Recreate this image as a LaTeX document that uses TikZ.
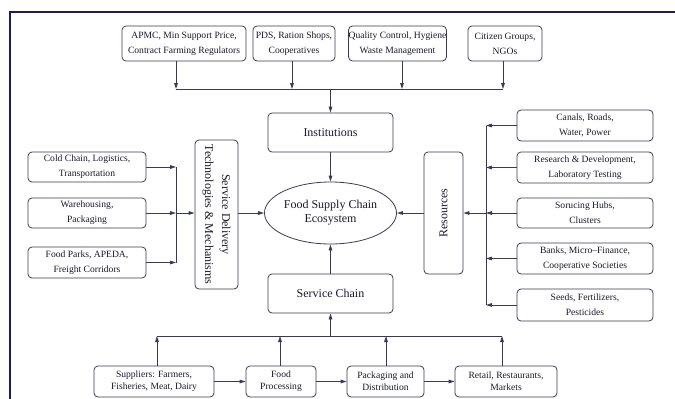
\documentclass[tikz,border=0pt]{standalone}
\usepackage{fontspec}
\setmainfont{Liberation Serif}
\usetikzlibrary{arrows.meta,shapes.geometric,calc}
\definecolor{lnc}{RGB}{58,58,88}
\definecolor{txc}{RGB}{25,25,45}
\definecolor{navyc}{RGB}{25,25,110}
\begin{document}
\begin{tikzpicture}[x=1pt,y=-1pt,
 box/.style={draw=lnc, line width=0.8pt, rounded corners=4pt, align=center, inner sep=0pt, text=txc, font=\fontsize{9.6}{15}\selectfont},
 lowbox/.style={box, font=\fontsize{9.6}{12}\selectfont},
 bigbox/.style={box, font=\fontsize{12}{17}\selectfont},
 arr/.style={draw=lnc, line width=0.8pt, -{Triangle[length=6pt,width=3.6pt]}},
 bus/.style={draw=lnc, line width=0.8pt},
 frame/.style={draw=navyc, line width=1.2pt}]
\useasboundingbox (0,0) rectangle (675,399);
\draw[frame] (10,399) -- (10,12) -- (675,12);

% top boxes
\node[box, minimum width=124pt, minimum height=35pt] (t1) at (184,43.5) {APMC, Min Support Price,\\Contract Farming Regulators};
\node[box, minimum width=82pt, minimum height=35pt] (t2) at (294,43.5) {PDS, Ration Shops,\\Cooperatives};
\node[box, minimum width=93pt, minimum height=35pt] (t3) at (397.5,43.5) {Quality Control, Hygiene\\Waste Management};
\node[box, minimum width=74pt, minimum height=35pt] (t4) at (505,43.5) {Citizen Groups,\\NGOs};

% center column
\node[bigbox, minimum width=125pt, minimum height=39pt] (inst) at (330.5,132.5) {Institutions};
\node[ellipse, draw=lnc, line width=0.8pt, minimum width=117pt, minimum height=62pt, inner sep=0pt, align=center, text=txc, font=\fontsize{12}{14}\selectfont] (eco) at (330.5,213) {Food Supply Chain\\Ecosystem};
\node[bigbox, minimum width=125pt, minimum height=39pt] (sc) at (330.5,293.5) {Service Chain};

% side columns
\node[bigbox, rotate=-90, minimum width=149pt, minimum height=43pt] (sd) at (216.5,214.5) {Service Delivery\\Technologies \& Mechanisms};
\node[bigbox, rotate=90, minimum width=122pt, minimum height=39pt] (res) at (443.5,213) {Resources};

% left boxes
\node[box, minimum width=118pt, minimum height=30pt] (l1) at (87,167) {Cold Chain, Logistics,\\Transportation};
\node[box, minimum width=118pt, minimum height=30pt] (l2) at (87,213) {Warehousing,\\Packaging};
\node[box, minimum width=118pt, minimum height=31pt] (l3) at (87,262.5) {Food Parks, APEDA,\\Freight Corridors};

% right boxes
\node[box, minimum width=136pt, minimum height=31pt] (r1) at (585,125.5) {Canals, Roads,\\Water, Power};
\node[box, minimum width=136pt, minimum height=31pt] (r2) at (585,167.5) {Research \& Development,\\Laboratory Testing};
\node[box, minimum width=136pt, minimum height=30pt] (r3) at (585,213) {Sorucing Hubs,\\Clusters};
\node[box, minimum width=136pt, minimum height=31pt] (r4) at (585,258.5) {Banks, Micro--Finance,\\Cooperative Societies};
\node[box, minimum width=136pt, minimum height=32pt] (r5) at (585,305) {Seeds, Fertilizers,\\Pesticides};

% bottom boxes
\node[lowbox, minimum width=120pt, minimum height=31pt] (s1) at (154,381.5) {Suppliers: Farmers,\\Fisheries, Meat, Dairy};
\node[lowbox, minimum width=70pt, minimum height=31pt] (s2) at (281,381.5) {Food\\Processing};
\node[lowbox, minimum width=77pt, minimum height=31pt] (s3) at (385.5,381.5) {Packaging and\\Distribution};
\node[lowbox, minimum width=102pt, minimum height=31pt] (s4) at (506,381.5) {Retail, Restaurants,\\Markets};

% top bus
\coordinate (tb1) at (176,89);
\coordinate (tb2) at (292,89);
\coordinate (tb3) at (402,89);
\coordinate (tb4) at (503,89);
\coordinate (tbm) at (330.5,89);
\draw[arr] (t1.south -| tb1) -- (tb1);
\draw[arr] (t2.south -| tb2) -- (tb2);
\draw[arr] (t3.south -| tb3) -- (tb3);
\draw[arr] (t4.south -| tb4) -- (tb4);
\draw[bus] (tb1) -- (tb4);
\draw[arr] (tbm) -- (inst.north);
\draw[arr] (inst) -- (eco);
\draw[arr] (sc) -- (eco);

% bottom bus
\coordinate (bb1) at (157,336);
\coordinate (bb2) at (280,336);
\coordinate (bb3) at (386,336);
\coordinate (bb4) at (502,336);
\coordinate (bbm) at (330.5,336);
\draw[arr] (s1.north -| bb1) -- (bb1);
\draw[arr] (s2.north -| bb2) -- (bb2);
\draw[arr] (s3.north -| bb3) -- (bb3);
\draw[arr] (s4.north -| bb4) -- (bb4);
\draw[bus] (bb1) -- (bb4);
\draw[arr] (bbm) -- (sc.south);
\draw[arr] (s1) -- (s2);
\draw[arr] (s2) -- (s3);
\draw[arr] (s3) -- (s4);

% left collector
\coordinate (lv1) at (176,167);
\coordinate (lv2) at (176,213);
\coordinate (lv3) at (176,262.5);
\draw[arr] (l1.east) -- (lv1);
\draw[arr] (l2.east) -- (lv2);
\draw[arr] (l3.east) -- (lv3);
\draw[bus] (lv1) -- (lv3);
\draw[arr] (lv2) -- (lv2 -| sd.south);
\draw[arr] (eco.west -| sd.north) -- (eco.west);

% right collector
\coordinate (rv1) at (486,125.5);
\coordinate (rv2) at (486,167.5);
\coordinate (rv3) at (486,213);
\coordinate (rv4) at (486,258.5);
\coordinate (rv5) at (486,305);
\draw[bus] (rv1) -- (rv5);
\draw[arr] (r1.west) -- (rv1);
\draw[arr] (r2.west) -- (rv2);
\draw[arr] (r3.west) -- (rv3);
\draw[arr] (r4.west) -- (rv4);
\draw[arr] (r5.west) -- (rv5);
\draw[arr] (rv3) -- (res.south);
\draw[arr] (res) -- (eco);
\end{tikzpicture}
\end{document}
